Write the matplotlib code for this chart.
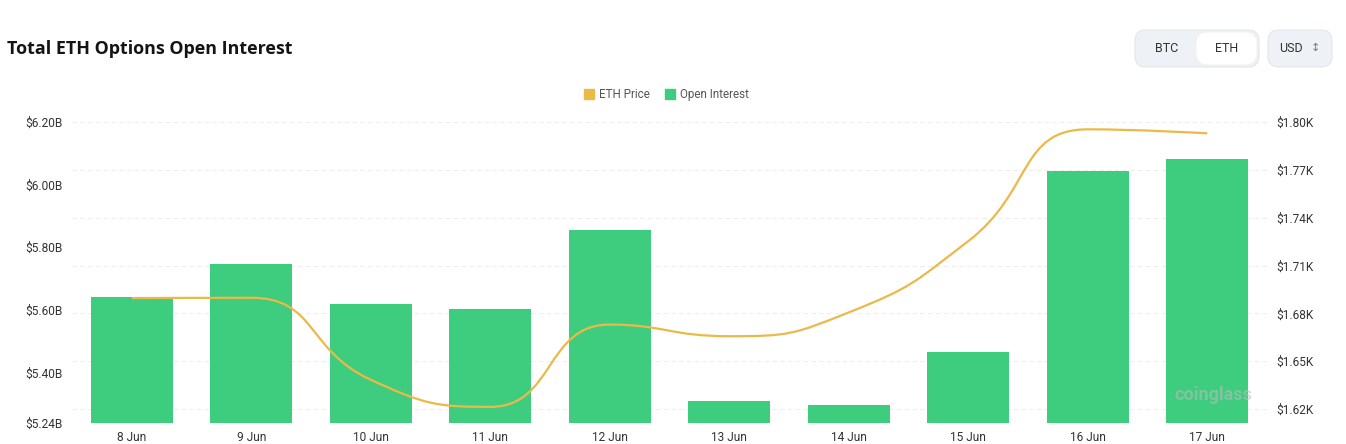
import numpy as np
import matplotlib.pyplot as plt
from matplotlib.path import Path
from matplotlib.patches import PathPatch, FancyBboxPatch

# données
days = ['8 Jun', '9 Jun', '10 Jun', '11 Jun', '12 Jun', '13 Jun', '14 Jun', '15 Jun', '16 Jun', '17 Jun']
open_interest = [5.641, 5.746, 5.619, 5.603, 5.855, 5.309, 5.296, 5.465, 6.043, 6.082]  # milliards USD
eth_price = [1.6896, 1.6898, 1.6384, 1.6214, 1.6730, 1.6657, 1.6806, 1.7253, 1.7954, 1.7929]  # milliers USD

left_ticks = [5.24, 5.40, 5.60, 5.80, 6.00, 6.20]
right_ticks = [1.62, 1.65, 1.68, 1.71, 1.74, 1.77, 1.80]

green = '#3ecc7e'
gold = '#ebb948'
txt = '#333333'
plt.rcParams['font.family'] = ['Roboto', 'DejaVu Sans']

fig = plt.figure(figsize=(13.46, 4.44), dpi=100)
ax = fig.add_axes([72 / 1346, 21.5 / 444, 1195 / 1346, 300.5 / 444])
ax2 = ax.twinx()
ax2.set_zorder(ax.get_zorder() - 1)
ax.patch.set_visible(False)
ax2.patch.set_visible(True)
ax2.patch.set_facecolor('white')

x = np.arange(len(days))
ax.bar(x, open_interest, width=0.69, color=green, zorder=2)
ax.set_xlim(-0.5, len(days) - 0.5)
ax.set_ylim(5.24, 6.20)
ax.set_yticks(left_ticks)
ax.set_yticklabels(['$%.2fB' % v for v in left_ticks])
ax.set_xticks(x)
ax.set_xticklabels(days)

ax2.set_ylim(1.6116, 1.80)
ax2.set_yticks(right_ticks)
ax2.set_yticklabels(['$%.2fK' % v for v in right_ticks])
for v in right_ticks:
    ax2.axhline(v, color='#ededed', lw=0.8, ls=(0, (4, 3)), zorder=0)
ax2.axhline(1.6116, color='#e4e4e4', lw=0.8, ls=(0, (4, 3)), zorder=0)

for a in (ax, ax2):
    for s in a.spines.values():
        s.set_visible(False)
    a.tick_params(length=0, labelsize=8.6, colors=txt)
ax.tick_params(axis='y', pad=7)
ax2.tick_params(axis='y', pad=7)
ax.tick_params(axis='x', pad=6)

# courbe lissée (style echarts) calculée en pixels
pts = ax2.transData.transform(np.column_stack([x, eth_price]))
smooth = 0.5
def clamp(v, a, b):
    return min(max(v, min(a, b)), max(a, b))
verts = [tuple(pts[0])]
codes = [Path.MOVETO]
cp0 = tuple(pts[0])
n = len(pts)
for i in range(1, n):
    px, py = pts[i]
    qx, qy = pts[i - 1]
    if i == n - 1:
        ncp0 = (px, py)
        cp1 = (px, py)
    else:
        nx, ny = pts[i + 1]
        l0 = np.hypot(px - qx, py - qy)
        l1 = np.hypot(nx - px, ny - py)
        r = l1 / (l0 + l1)
        vx, vy = nx - qx, ny - qy
        c1x = clamp(px + vx * smooth * r, px, nx)
        c1y = clamp(py + vy * smooth * r, py, ny)
        vx, vy = c1x - px, c1y - py
        c0x = clamp(px - vx * l0 / l1, qx, px)
        c0y = clamp(py - vy * l0 / l1, qy, py)
        vx, vy = px - c0x, py - c0y
        ncp0 = (c0x, c0y)
        cp1 = (px + vx * l1 / l0, py + vy * l1 / l0)
    verts += [cp0, ncp0, (px, py)]
    codes += [Path.CURVE4] * 3
    cp0 = cp1
verts = ax2.transData.inverted().transform(np.array(verts))
ax.add_patch(PathPatch(Path(verts, codes), fill=False, edgecolor=gold, lw=1.6,
                       transform=ax2.transData, zorder=4))

# filigrane
ax.text(0.988, 0.09, 'coinglass', transform=ax.transAxes, ha='right', va='center',
        fontsize=13, fontweight='bold', color='#bdbdbd', alpha=0.55, zorder=5)

# titre
fig.text(7 / 1346, 1 - 49 / 444, 'Total ETH Options Open Interest', fontsize=12.9,
         fontweight='bold', color='#141414', va='center', family=['Open Sans', 'DejaVu Sans'])

# légende
ly = 1 - 94 / 444
fig.patches.append(FancyBboxPatch((584 / 1346, ly - 5 / 444), 10 / 1346, 10 / 444,
                                  boxstyle='square,pad=0', transform=fig.transFigure,
                                  color=gold))
fig.text(599 / 1346, ly, 'ETH Price', fontsize=8.4, color='#555555', va='center')
fig.patches.append(FancyBboxPatch((665 / 1346, ly - 5 / 444), 10 / 1346, 10 / 444,
                                  boxstyle='square,pad=0', transform=fig.transFigure,
                                  color=green))
fig.text(680 / 1346, ly, 'Open Interest', fontsize=8.4, color='#555555', va='center')

# boutons
def box(x0, y0, w, h, fc, ec):
    fig.patches.append(FancyBboxPatch((x0 / 1346, 1 - (y0 + h) / 444), w / 1346, h / 444,
                                      boxstyle='round,pad=0,rounding_size=0.008',
                                      transform=fig.transFigure, fc=fc, ec=ec, lw=0.8,
                                      mutation_aspect=3.0))
box(1135, 30, 124, 37, '#eef1f5', '#e3e6ea')
box(1197, 33, 59, 31, '#ffffff', '#ffffff')
box(1268, 30, 64, 37, '#eef1f5', '#e3e6ea')
fig.text(1167 / 1346, 1 - 48 / 444, 'BTC', fontsize=9, color=txt, ha='center', va='center')
fig.text(1227 / 1346, 1 - 48 / 444, 'ETH', fontsize=9, color=txt, ha='center', va='center')
fig.text(1291 / 1346, 1 - 48 / 444, 'USD', fontsize=9, color=txt, ha='center', va='center')
fig.text(1315 / 1346, 1 - 48 / 444, '\u2195', fontsize=8, color='#777777', ha='center', va='center')

plt.savefig('out.png', dpi=100)
